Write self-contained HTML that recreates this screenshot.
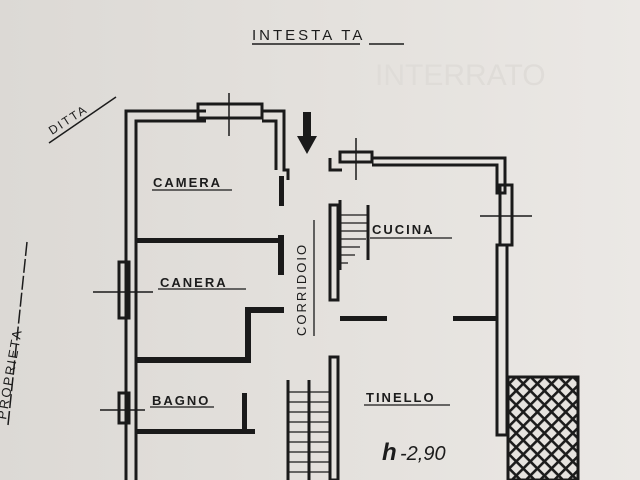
<!DOCTYPE html>
<html><head><meta charset="utf-8"><style>
html,body{margin:0;padding:0;background:#e4e1dd;}
svg{display:block}
text{font-family:"Liberation Sans",sans-serif;fill:#1c1c1c;}
</style></head><body>
<svg width="640" height="480" viewBox="0 0 640 480" xmlns="http://www.w3.org/2000/svg">
<defs>
<linearGradient id="bg" x1="0" y1="0" x2="1" y2="0">
<stop offset="0" stop-color="#dcd9d5"/><stop offset="0.6" stop-color="#e5e2de"/><stop offset="1" stop-color="#ebe8e5"/>
</linearGradient>
<pattern id="hat" width="10" height="10" patternUnits="userSpaceOnUse" patternTransform="rotate(45)">
<rect width="10" height="10" fill="#e6e3df"/>
<rect width="2.6" height="10" fill="#1c1c1c"/><rect width="10" height="2.6" fill="#1c1c1c"/>
</pattern>
</defs>
<rect width="640" height="480" fill="url(#bg)"/>
<text x="375" y="85" font-size="30" style="fill:#dfdcd8">INTERRATO</text>

<text x="252" y="40" font-size="15" letter-spacing="3">INTESTA TA</text>
<line x1="252" y1="44" x2="360" y2="44" stroke="#1c1c1c" stroke-width="1.5"/>
<line x1="369" y1="44" x2="404" y2="44" stroke="#1c1c1c" stroke-width="1.5"/>
<g transform="translate(52,135) rotate(-33)"><text font-size="12" letter-spacing="2">DITTA</text></g>
<line x1="49" y1="143" x2="116" y2="97" stroke="#1c1c1c" stroke-width="1.5"/>
<g transform="translate(6,420) rotate(-80)"><text font-size="13" letter-spacing="2">PROPRIETA</text></g>
<line x1="27" y1="242" x2="8" y2="425" stroke="#1c1c1c" stroke-width="1.5" stroke-dasharray="14 3"/>

<g fill="none" stroke="#1a1a1a" stroke-width="3" stroke-linejoin="miter">
<path d="M126,480 V111 H206 M262,111 H284 V170 H288 V180"/>
<path d="M136,480 V121 H206 M262,121 H276 V170"/>
<rect x="198" y="104" width="64" height="14"/>
<rect x="119" y="262" width="10" height="56"/>
<rect x="119" y="393" width="10" height="30"/>
<path d="M330,158 V170 H342 M372,158 H505 V193 H497 V165 H372"/>
<rect x="340" y="152" width="32" height="10"/>
<path d="M497,245 V435 H507 V245 Z"/>
<rect x="500" y="185" width="12" height="60"/>
<rect x="330" y="205" width="8" height="95"/>
<rect x="330" y="357" width="8" height="123"/>
<path d="M288,380 V480 M330,380 V480 M309,380 V480"/>
<path d="M340,200 V270 M368,205 V260"/>
</g>
<g fill="#1a1a1a">
<rect x="279" y="176" width="5" height="30"/>
<rect x="136" y="238" width="147" height="5"/>
<rect x="278" y="235" width="6" height="40"/>
<path d="M245,307 H284 V313 H251 V363 H136 V357 H245 Z"/>
<rect x="242" y="393" width="5" height="38"/>
<rect x="136" y="429" width="119" height="5"/>
<rect x="340" y="316" width="47" height="5"/>
<rect x="453" y="316" width="44" height="5"/>
<rect x="508" y="377" width="70" height="103" fill="url(#hat)" stroke="#1a1a1a" stroke-width="3"/>
<path d="M303,112 h8 v24 h6 l-10,18 l-10,-18 h6 z"/>
</g>
<g stroke="#1a1a1a" stroke-width="1.5">
<line x1="229" y1="93" x2="229" y2="136"/>
<line x1="356" y1="138" x2="356" y2="180"/>
<line x1="480" y1="216" x2="532" y2="216"/>
<line x1="93" y1="292" x2="153" y2="292"/>
<line x1="100" y1="410" x2="145" y2="410"/>
<g stroke-width="1.3">
<path d="M340,215 H368 M340,223 H368 M340,231 H368 M340,239 H366 M340,247 H360 M340,255 H355 M340,263 H348"/>
<path d="M288,392 H330 M288,402 H330 M288,412 H330 M288,422 H330 M288,432 H330 M288,442 H330 M288,452 H330 M288,462 H330 M288,472 H330"/>
</g>
</g>
<g font-size="13" letter-spacing="2" font-weight="bold">
<text x="153" y="187">CAMERA</text>
<line x1="152" y1="190" x2="232" y2="190" stroke="#1a1a1a" stroke-width="1.3"/>
<text x="160" y="287">CANERA</text>
<line x1="158" y1="289" x2="246" y2="289" stroke="#1a1a1a" stroke-width="1.3"/>
<text x="152" y="405">BAGNO</text>
<line x1="150" y1="407" x2="214" y2="407" stroke="#1a1a1a" stroke-width="1.3"/>
<text x="372" y="234">CUCINA</text>
<line x1="370" y1="238" x2="452" y2="238" stroke="#1a1a1a" stroke-width="1.3"/>
<text x="366" y="402">TINELLO</text>
<line x1="364" y1="405" x2="450" y2="405" stroke="#1a1a1a" stroke-width="1.3"/>
</g>
<g transform="translate(306,336) rotate(-90)"><text font-size="13" letter-spacing="2">CORRIDOIO</text></g>
<line x1="314" y1="220" x2="314" y2="336" stroke="#1a1a1a" stroke-width="1.3"/>
<text x="382" y="460" font-size="24" font-style="italic" font-weight="bold">h</text>
<text x="400" y="460" font-size="20" font-style="italic">-2,90</text>
</svg>
</body></html>
